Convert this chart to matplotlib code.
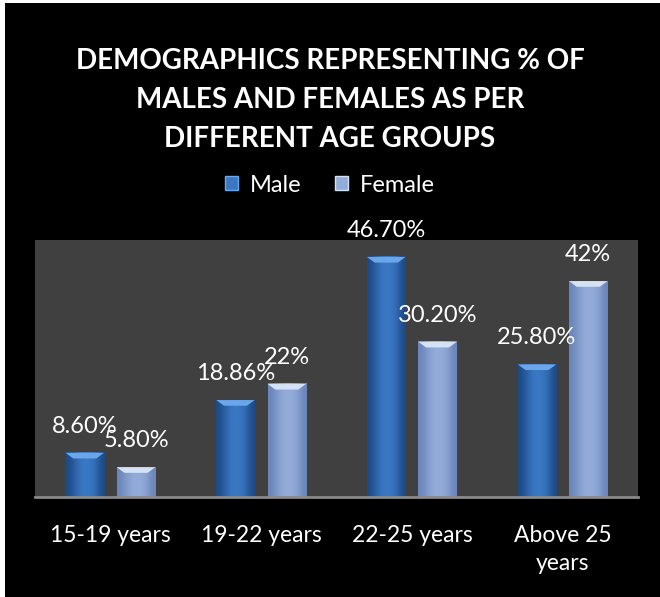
import matplotlib
matplotlib.use("Agg")
import matplotlib.pyplot as plt
from matplotlib.patches import Rectangle, Polygon, Patch
import numpy as np

# chart data
categories = ["15-19 years", "19-22 years", "22-25 years", "Above 25\nyears"]
male = [8.60, 18.86, 46.70, 25.80]
female = [5.80, 22.0, 30.20, 42.0]
male_labels = ["8.60%", "18.86%", "46.70%", "25.80%"]
female_labels = ["5.80%", "22%", "30.20%", "42%"]
series_names = ["Male", "Female"]

plt.rcParams['font.family'] = ['Lato', 'DejaVu Sans']

fig = plt.figure(figsize=(6.6, 5.97), dpi=100)
fig.patch.set_facecolor("white")
# black slide area, small white margin on left/top
fig.patches.append(Rectangle((5 / 660, 0), 1, 1 - 3 / 597, transform=fig.transFigure,
                             facecolor="black", edgecolor="none", zorder=-10))

ax = fig.add_axes([35 / 660, 100 / 597, 603 / 660, 257 / 597])
ax.set_facecolor("#404040")

x = np.arange(len(categories))
w = 0.255
off = 0.17

male_col = ("#1d4a85", "#3a78c4", "#6aa6ea")      # edge, body, top bevel
female_col = ("#6a85ba", "#93acd9", "#d4e2f8")


def shade_bars(bars, cols):
    for b in bars:
        b.set_facecolor("none")
        b.set_edgecolor("none")
        x0, y0 = b.get_x(), b.get_y()
        bw, bh = b.get_width(), b.get_height()
        # horizontal gradient: darker at the sides
        grad = np.array([[0.0, 0.6, 1.0, 1.0, 0.8, 0.0]])
        c0 = np.array(matplotlib.colors.to_rgb(cols[0]))
        c1 = np.array(matplotlib.colors.to_rgb(cols[1]))
        img = c0[None, None, :] * (1 - grad[..., None]) + c1[None, None, :] * grad[..., None]
        ax.imshow(img, extent=(x0, x0 + bw, y0, y0 + bh), aspect="auto",
                  interpolation="bicubic", zorder=2)
        # bevelled top cap
        cap = 1.1
        inset = bw * 0.2
        top = Polygon([(x0, y0 + bh), (x0 + bw, y0 + bh),
                       (x0 + bw - inset, y0 + bh - cap), (x0 + inset, y0 + bh - cap)],
                      closed=True, facecolor=cols[2], edgecolor="none", zorder=3)
        ax.add_patch(top)


bm = ax.bar(x - off, male, w, label=series_names[0], zorder=2)
bf = ax.bar(x + off, female, w, label=series_names[1], zorder=2)
shade_bars(bm, male_col)
shade_bars(bf, female_col)

# value labels above each bar
for i in range(len(categories)):
    ax.annotate(male_labels[i], (x[i] - off, male[i]), xytext=(0, 19),
                textcoords="offset points", ha="center", va="center",
                color="white", fontsize=17, zorder=5, annotation_clip=False)
    ax.annotate(female_labels[i], (x[i] + off, female[i]), xytext=(0, 19),
                textcoords="offset points", ha="center", va="center",
                color="white", fontsize=17, zorder=5, annotation_clip=False)

ax.set_xlim(-0.5, 3.5)
ax.set_ylim(0, 50)
ax.set_yticks([])
ax.set_xticks(x)
ax.set_xticklabels(categories, color="white", fontsize=16.5, linespacing=1.45)
ax.tick_params(axis="x", length=0, pad=20)
for s in ["top", "left", "right"]:
    ax.spines[s].set_visible(False)
ax.spines["bottom"].set_color("#8a8a8a")
ax.spines["bottom"].set_linewidth(2)

fig.text(0.5, 1 - 100 / 597, "DEMOGRAPHICS REPRESENTING % OF\nMALES AND FEMALES AS PER\nDIFFERENT AGE GROUPS",
         ha="center", va="center", color="white", fontsize=20, fontweight="bold",
         linespacing=1.6)

handles = [Patch(facecolor=male_col[1], edgecolor=male_col[2]),
           Patch(facecolor=female_col[1], edgecolor=female_col[2])]
leg = fig.legend(handles, series_names, loc="center", bbox_to_anchor=(0.5, 1 - 185 / 597),
                 ncol=2, frameon=False, fontsize=17, labelcolor="white",
                 handlelength=0.55, handleheight=0.55, handletextpad=0.5, columnspacing=1.4)

fig.savefig("out.png", dpi=100, facecolor=fig.get_facecolor())
